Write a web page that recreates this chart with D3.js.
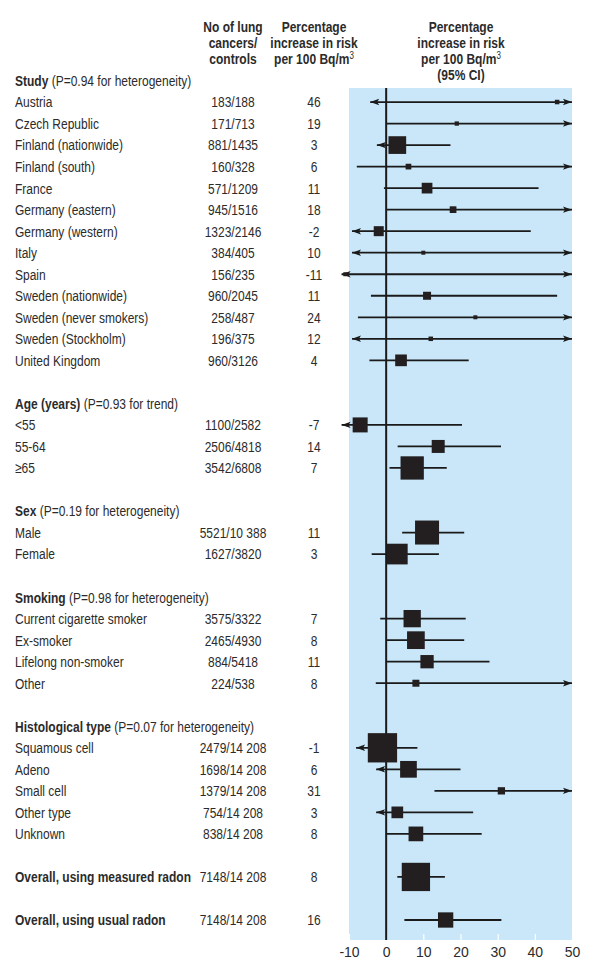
<!DOCTYPE html>
<html>
<head>
<meta charset="utf-8">
<script src="https://cdn.jsdelivr.net/npm/d3@7"></script>
<style>
  html, body { margin: 0; padding: 0; background: #ffffff; }
  svg { display: block; }
  text { font-family: 'Liberation Sans', Arial, sans-serif; fill: #2b2b2b; }
</style>
</head>
<body>
<svg id="chart" width="600" height="971"></svg>
<script>
// ---------------- DATA ----------------
const sectionTitles = ["Study", "Age (years)", "Sex", "Smoking", "Histological type", "", ""];
const sectionNotes  = ["(P=0.94 for heterogeneity)", "(P=0.93 for trend)", "(P=0.19 for heterogeneity)",
                       "(P=0.98 for heterogeneity)", "(P=0.07 for heterogeneity)", "", ""];

const categories = ["Austria", "Czech Republic", "Finland (nationwide)", "Finland (south)", "France",
  "Germany (eastern)", "Germany (western)", "Italy", "Spain", "Sweden (nationwide)",
  "Sweden (never smokers)", "Sweden (Stockholm)", "United Kingdom",
  "<55", "55-64", "≥65",
  "Male", "Female",
  "Current cigarette smoker", "Ex-smoker", "Lifelong non-smoker", "Other",
  "Squamous cell", "Adeno", "Small cell", "Other type", "Unknown",
  "Overall, using measured radon", "Overall, using usual radon"];

const sectionOf = [0,0,0,0,0,0,0,0,0,0,0,0,0, 1,1,1, 2,2, 3,3,3,3, 4,4,4,4,4, 5, 6];

const casesControls = ["183/188", "171/713", "881/1435", "160/328", "571/1209", "945/1516", "1323/2146",
  "384/405", "156/235", "960/2045", "258/487", "196/375", "960/3126",
  "1100/2582", "2506/4818", "3542/6808",
  "5521/10 388", "1627/3820",
  "3575/3322", "2465/4930", "884/5418", "224/538",
  "2479/14 208", "1698/14 208", "1379/14 208", "754/14 208", "838/14 208",
  "7148/14 208", "7148/14 208"];

const estimates = [46, 19, 3, 6, 11, 18, -2, 10, -11, 11, 24, 12, 4,
  -7, 14, 7,
  11, 3,
  7, 8, 11, 8,
  -1, 6, 31, 3, 8,
  8, 16];

const ciLow = [-4.3, 0, -2.5, -7.9, -0.6, 0.2, -9.2, -9.2, -12, -4.1, -7.6, -9.2, -4.5,
  -12, 3.1, 0.9,
  4.3, -3.9,
  -1.6, 0, 0, -2.8,
  -8.1, -2.7, 13, -2.7, 0,
  3.0, 4.9];

const ciHigh = [50, 50, 17.3, 50, 41, 50, 38.9, 50, 50, 46, 50, 50, 22.2,
  20.4, 30.9, 16.3,
  21, 14.2,
  21.4, 21, 27.8, 50,
  8.4, 20, 50, 23.4, 25.7,
  15.8, 31];

const lowOpen  = [1,0,1,0,0,0,1,1,1,0,0,1,0, 1,0,0, 0,0, 0,0,0,0, 1,1,0,1,0, 0,0];
const highOpen = [1,1,0,1,0,1,0,1,1,0,1,1,0, 0,0,0, 0,0, 0,0,0,1, 0,0,1,0,0, 0,0];

const weights = [4.5, 4.3, 17.7, 5.7, 10.7, 6.7, 10, 4, 4, 8, 4, 4.5, 11.7,
  15, 13, 23.3,
  24, 20.7,
  17.3, 17.7, 13.3, 7,
  29.3, 16.7, 7.3, 11.7, 14.7,
  28.3, 15.3];

const xTicks = [-10, 0, 10, 20, 30, 40, 50];

// ---------------- LAYOUT ----------------
const svg = d3.select("#chart");
const NARROW = 0.8;   // horizontal compression to mimic a condensed face

function addText(parent, x, y, anchor, size, weight) {
  return parent.append("text")
    .attr("transform", `translate(${x},${y}) scale(${NARROW},1)`)
    .attr("dy", "0.36em")
    .attr("text-anchor", anchor)
    .attr("font-size", size)
    .attr("font-weight", weight);
}

// build row order: header row, items, blank row
const rows = [];
sectionTitles.forEach((t, s) => {
  if (t) rows.push({type: "header", s});
  categories.forEach((c, i) => { if (sectionOf[i] === s) rows.push({type: "item", i, s}); });
  rows.push({type: "blank"});
});
rows.pop();

const y = d3.scalePoint().domain(d3.range(rows.length)).range([80.5, 920]);
const x = d3.scaleLinear().domain([-10, 50]).range([349, 572]);
const boxScale = d3.scaleLinear().domain([0, 30]).range([0, 30]);

const panelTop = 88, panelBottom = 940;

// blue panel
svg.append("rect")
  .attr("x", x(-10)).attr("y", panelTop)
  .attr("width", x(50) - x(-10)).attr("height", panelBottom - panelTop)
  .attr("fill", "#c9e7f9");

// axis
const axis = d3.axisBottom(x).tickValues(xTicks).tickFormat(d => String(d))
  .tickSizeInner(-6).tickSizeOuter(0).tickPadding(7);
const ax = svg.append("g").attr("transform", `translate(0,${panelBottom})`).call(axis);
ax.select(".domain").remove();
ax.selectAll(".tick line").attr("stroke", "#ffffff").attr("stroke-width", 1.2);
ax.selectAll(".tick text").attr("font-size", 14).attr("fill", "#444")
  .style("font-family", "'Liberation Sans', Arial, sans-serif");

// zero line
svg.append("line")
  .attr("x1", x(0)).attr("x2", x(0))
  .attr("y1", panelTop).attr("y2", panelBottom)
  .attr("stroke", "#1a1a1a").attr("stroke-width", 2);

// column headers
const headerLines = [
  {x: 233, lines: ["No of lung", "cancers/", "controls"]},
  {x: 314, lines: ["Percentage", "increase in risk", "per 100 Bq/m|3"]},
  {x: 461, lines: ["Percentage", "increase in risk", "per 100 Bq/m|3", "(95% CI)"]}
];
headerLines.forEach(h => {
  h.lines.forEach((ln, k) => {
    const t = addText(svg, h.x, 27 + k * 15.7, "middle", 15, "bold");
    const parts = ln.split("|");
    t.append("tspan").text(parts[0]);
    if (parts[1]) t.append("tspan").attr("font-size", 10).attr("dy", "-0.5em").attr("font-weight", "normal").text(parts[1]);
  });
});

// rows
const g = svg.append("g");
rows.forEach((r, ri) => {
  const yy = y(ri);
  if (r.type === "header") {
    const t = addText(g, 15, yy, "start", 15, "normal");
    t.append("tspan").attr("font-weight", "bold").text(sectionTitles[r.s]);
    t.append("tspan").text(" " + sectionNotes[r.s]);
  } else if (r.type === "item") {
    const i = r.i;
    const bold = !sectionTitles[r.s];
    addText(g, 15, yy, "start", 15, bold ? "bold" : "normal").text(categories[i]);
    addText(g, 233, yy, "middle", 15, "normal").text(casesControls[i]);
    addText(g, 314, yy, "middle", 15, "normal").text(estimates[i]);

    // CI line
    const x1 = x(ciLow[i]), x2 = x(ciHigh[i]);
    g.append("line").attr("x1", x1).attr("x2", x2).attr("y1", yy).attr("y2", yy)
      .attr("stroke", "#1a1a1a").attr("stroke-width", 1.8);
    const aL = 9, aH = 3.2;
    if (lowOpen[i]) {
      g.append("path").attr("d", `M${x1},${yy} L${x1 + aL},${yy - aH} L${x1 + aL - 2},${yy} L${x1 + aL},${yy + aH} Z`)
        .attr("fill", "#1a1a1a");
    }
    if (highOpen[i]) {
      g.append("path").attr("d", `M${x2},${yy} L${x2 - aL},${yy - aH} L${x2 - aL + 2},${yy} L${x2 - aL},${yy + aH} Z`)
        .attr("fill", "#1a1a1a");
    }
    // box
    const s = boxScale(weights[i]);
    g.append("rect").attr("x", x(estimates[i]) - s / 2).attr("y", yy - s / 2)
      .attr("width", s).attr("height", s).attr("fill", "#231f20");
  }
});
</script>
</body>
</html>
